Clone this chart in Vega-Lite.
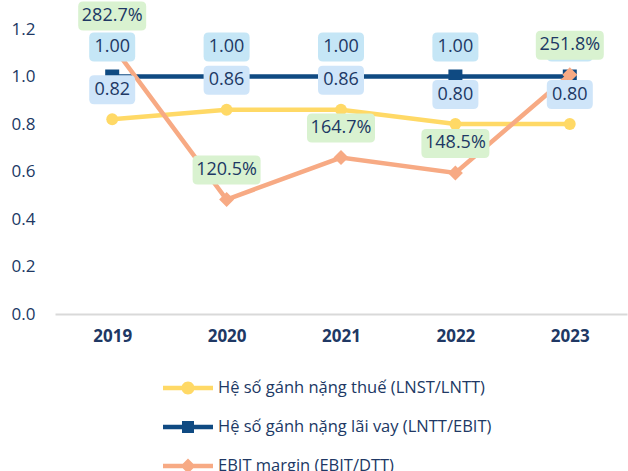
{
  "$schema": "https://vega.github.io/schema/vega-lite/v6.json",
  "width": 572,
  "height": 285,
  "autosize": {"type": "none"},
  "padding": {"left": 55, "top": 29, "right": 1, "bottom": 157},
  "config": {"view": {"stroke": null}, "font": "Open Sans"},
  "data": {
    "values": [
      {"year": "2019", "series": "Hệ số gánh nặng thuế (LNST/LNTT)", "value": 0.82},
      {"year": "2020", "series": "Hệ số gánh nặng thuế (LNST/LNTT)", "value": 0.86},
      {"year": "2021", "series": "Hệ số gánh nặng thuế (LNST/LNTT)", "value": 0.86},
      {"year": "2022", "series": "Hệ số gánh nặng thuế (LNST/LNTT)", "value": 0.80},
      {"year": "2023", "series": "Hệ số gánh nặng thuế (LNST/LNTT)", "value": 0.80},
      {"year": "2019", "series": "Hệ số gánh nặng lãi vay (LNTT/EBIT)", "value": 1.00},
      {"year": "2020", "series": "Hệ số gánh nặng lãi vay (LNTT/EBIT)", "value": 1.00},
      {"year": "2021", "series": "Hệ số gánh nặng lãi vay (LNTT/EBIT)", "value": 1.00},
      {"year": "2022", "series": "Hệ số gánh nặng lãi vay (LNTT/EBIT)", "value": 1.00},
      {"year": "2023", "series": "Hệ số gánh nặng lãi vay (LNTT/EBIT)", "value": 1.00},
      {"year": "2019", "series": "EBIT margin (EBIT/DTT)", "value": 2.827},
      {"year": "2020", "series": "EBIT margin (EBIT/DTT)", "value": 1.205},
      {"year": "2021", "series": "EBIT margin (EBIT/DTT)", "value": 1.647},
      {"year": "2022", "series": "EBIT margin (EBIT/DTT)", "value": 1.485},
      {"year": "2023", "series": "EBIT margin (EBIT/DTT)", "value": 2.518}
    ]
  },
  "encoding": {
    "x": {
      "field": "year",
      "type": "ordinal",
      "axis": {
        "title": null,
        "labelAngle": 0,
        "labelFontWeight": "bold",
        "labelFontSize": 17,
        "labelColor": "#203864",
        "labelPadding": 14,
        "ticks": false,
        "domainColor": "#D9D9D9",
        "domainWidth": 2
      }
    }
  },
  "layer": [
    {
      "transform": [{"filter": {"field": "series", "oneOf": ["Hệ số gánh nặng thuế (LNST/LNTT)", "Hệ số gánh nặng lãi vay (LNTT/EBIT)"]}}],
      "encoding": {
        "y": {
          "field": "value",
          "type": "quantitative",
          "scale": {"domain": [0, 1.2], "nice": false},
          "axis": {
            "title": null,
            "values": [0, 0.2, 0.4, 0.6, 0.8, 1.0, 1.2],
            "format": ".1f",
            "grid": false,
            "ticks": false,
            "domain": false,
            "labelFontSize": 17,
            "labelColor": "#203864",
            "labelPadding": 20
          }
        }
      },
      "layer": [
        {"transform": [{"filter": {"field": "series", "equal": "Hệ số gánh nặng thuế (LNST/LNTT)"}}], "mark": {"type": "line", "color": "#FFD966", "strokeWidth": 4.5}, "encoding": {}},
        {"transform": [{"filter": {"field": "series", "equal": "Hệ số gánh nặng thuế (LNST/LNTT)"}}], "mark": {"type": "point", "shape": "circle", "filled": true, "color": "#FFD966", "size": 140, "opacity": 1}},
        {"transform": [{"filter": {"field": "series", "equal": "Hệ số gánh nặng lãi vay (LNTT/EBIT)"}}], "mark": {"type": "line", "color": "#0F4A82", "strokeWidth": 4.5}, "encoding": {}},
        {"transform": [{"filter": {"field": "series", "equal": "Hệ số gánh nặng lãi vay (LNTT/EBIT)"}}], "mark": {"type": "point", "shape": "square", "filled": true, "color": "#0F4A82", "size": 196, "opacity": 1}}
      ]
    },
    {
      "transform": [{"filter": {"field": "series", "equal": "EBIT margin (EBIT/DTT)"}}],
      "encoding": {
        "y": {"field": "value", "type": "quantitative", "scale": {"domain": [0, 3], "nice": false}, "axis": null}
      },
      "layer": [
        {"mark": {"type": "line", "color": "#F7AA84", "strokeWidth": 4.5}, "encoding": {}},
        {"mark": {"type": "point", "shape": "diamond", "filled": true, "color": "#F7AA84", "size": 225, "opacity": 1}}
      ]
    },
    {
      "transform": [{"filter": {"field": "series", "oneOf": ["Hệ số gánh nặng thuế (LNST/LNTT)", "Hệ số gánh nặng lãi vay (LNTT/EBIT)"]}}],
      "encoding": {
        "y": {"field": "value", "type": "quantitative", "scale": {"domain": [0, 1.2], "nice": false}, "axis": null}
      },
      "layer": [
        {"transform": [{"filter": {"field": "series", "equal": "Hệ số gánh nặng thuế (LNST/LNTT)"}}], "mark": {"type": "point", "shape": "M-1.8,-1.45H1.8Q2.3,-1.45 2.3,-0.95V0.95Q2.3,1.45 1.8,1.45H-1.8Q-2.3,1.45 -2.3,0.95V-0.95Q-2.3,-1.45 -1.8,-1.45Z", "size": 400, "filled": true, "color": "#CFE5F9", "opacity": 1, "strokeWidth": 0, "yOffset": -29.5}},
        {"transform": [{"filter": {"field": "series", "equal": "Hệ số gánh nặng thuế (LNST/LNTT)"}}], "mark": {"type": "text", "fontSize": 18, "color": "#203864", "align": "center", "baseline": "middle", "dy": -29.5}, "encoding": {"text": {"field": "value", "type": "quantitative", "format": ".2f"}}},
        {"transform": [{"filter": {"field": "series", "equal": "Hệ số gánh nặng lãi vay (LNTT/EBIT)"}}], "mark": {"type": "point", "shape": "M-1.8,-1.45H1.8Q2.3,-1.45 2.3,-0.95V0.95Q2.3,1.45 1.8,1.45H-1.8Q-2.3,1.45 -2.3,0.95V-0.95Q-2.3,-1.45 -1.8,-1.45Z", "size": 400, "filled": true, "color": "#C5E6F6", "opacity": 1, "strokeWidth": 0, "yOffset": -29.5}},
        {"transform": [{"filter": {"field": "series", "equal": "Hệ số gánh nặng lãi vay (LNTT/EBIT)"}}], "mark": {"type": "text", "fontSize": 18, "color": "#203864", "align": "center", "baseline": "middle", "dy": -29.5}, "encoding": {"text": {"field": "value", "type": "quantitative", "format": ".2f"}}}
      ]
    },
    {
      "transform": [{"filter": {"field": "series", "equal": "EBIT margin (EBIT/DTT)"}}],
      "encoding": {
        "y": {"field": "value", "type": "quantitative", "scale": {"domain": [0, 3], "nice": false}, "axis": null}
      },
      "layer": [
        {"mark": {"type": "point", "shape": "M-2.9,-1.45H2.9Q3.4,-1.45 3.4,-0.95V0.95Q3.4,1.45 2.9,1.45H-2.9Q-3.4,1.45 -3.4,0.95V-0.95Q-3.4,-1.45 -2.9,-1.45Z", "size": 400, "filled": true, "color": "#D9F2D0", "opacity": 1, "strokeWidth": 0, "yOffset": -29.5}},
        {"mark": {"type": "text", "fontSize": 18, "color": "#203864", "align": "center", "baseline": "middle", "dy": -29.5}, "encoding": {"text": {"field": "value", "type": "quantitative", "format": ".1%"}}}
      ]
    },
    {
      "transform": [{"filter": "false"}],
      "mark": {"type": "point", "filled": true, "opacity": 1},
      "encoding": {
        "x": null,
        "color": {
          "field": "series",
          "type": "nominal",
          "scale": {
            "domain": ["Hệ số gánh nặng thuế (LNST/LNTT)", "Hệ số gánh nặng lãi vay (LNTT/EBIT)", "EBIT margin (EBIT/DTT)"],
            "range": ["#FFD966", "#0F4A82", "#F7AA84"]
          },
          "legend": {"orient": "none", "legendX": 108, "legendY": 334, "direction": "vertical", "title": null, "labelFontSize": 16.5, "labelColor": "#203864", "labelFont": "Open Sans", "labelLimit": 0, "symbolSize": 2500, "labelOffset": 5, "padding": 0, "rowPadding": 5, "symbolStrokeWidth": 0}
        },
        "shape": {
          "field": "series",
          "type": "nominal",
          "scale": {
            "domain": ["Hệ số gánh nặng thuế (LNST/LNTT)", "Hệ số gánh nặng lãi vay (LNTT/EBIT)", "EBIT margin (EBIT/DTT)"],
            "range": [
              "M-1,-0.09H1V0.09H-1Z M0.26,0A0.26,0.26 0 1,1 -0.26,0A0.26,0.26 0 1,1 0.26,0Z",
              "M-1,-0.09H1V0.09H-1Z M-0.24,-0.24H0.24V0.24H-0.24Z",
              "M-1,-0.09H1V0.09H-1Z M0,-0.3L0.3,0L0,0.3L-0.3,0Z"
            ]
          },
          "legend": {"orient": "none", "legendX": 108, "legendY": 334, "direction": "vertical", "title": null, "labelFontSize": 16.5, "labelColor": "#203864", "labelFont": "Open Sans", "labelLimit": 0, "symbolSize": 2500, "labelOffset": 5, "padding": 0, "rowPadding": 5, "symbolStrokeWidth": 0}
        }
      }
    }
  ],
  "resolve": {"scale": {"y": "independent"}}
}
